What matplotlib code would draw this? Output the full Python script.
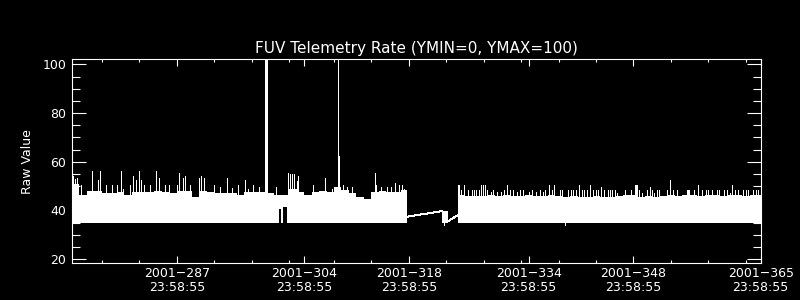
import numpy as np
import matplotlib
matplotlib.use('Agg')
import matplotlib.pyplot as plt
from matplotlib.ticker import MultipleLocator, FixedLocator

# day-of-year 2001, all ticks at 23:58:55
x_lo, x_hi = 273, 365
y_lo, y_hi = 18.4, 102.2
floor = 35.0

# segment 1: upper edge of the dense band, one value per day from day 273
seg1_start = 273
seg1_end = 317.73
seg1_top = [51, 46.5, 48, 48, 47, 47, 47.5, 46.5, 47.5, 47.5,
            47.5, 48, 47.5, 47, 48, 48, 45.5, 48, 47.5, 47,
            47, 47, 46.5, 47.5, 47.5, 47.5, 47, 46.5, 46.5, 49,
            47.5, 46.5, 47.5, 48, 47.5, 49.5, 48.5, 47, 45.5, 44.5,
            47.5, 48, 47.5, 47.5, 48.5]

# dropouts inside segment 1 (band does not reach the floor)
gap_start = [300.70, 301.22]
gap_end = [300.98, 301.77]
gap_top = [40.5, 41.5]

seg1_spike_day = [273.13, 273.40, 273.67, 274.16, 275.71, 276.43, 276.78, 277.54, 278.30, 278.97,
                  279.51, 279.80, 280.75, 281.19, 281.55, 281.99, 282.22, 282.62, 283.42, 284.27,
                  284.67, 285.43, 285.92, 286.99, 287.34, 287.79, 288.10, 288.77, 289.97, 290.24,
                  290.64, 291.98, 292.78, 293.67, 294.34, 295.14, 296.12, 296.52, 297.23, 297.99,
                  300.26, 301.85, 302.13, 302.44, 302.71, 303.03, 303.24, 305.17, 306.85, 307.70,
                  308.61, 309.17, 309.75, 310.38, 313.49, 313.63, 314.30, 315.05, 315.63, 316.16,
                  316.70, 317.06, 317.37]
seg1_spike_val = [54, 53, 53.2, 50.4, 56.2, 52.5, 56.2, 50.4, 50.4, 50.4,
                  56.2, 49, 50.4, 54.1, 52.5, 56.2, 52.5, 50.4, 50.4, 56.2,
                  53.2, 50.4, 50.4, 50.4, 55.2, 53.2, 54.1, 50.4, 53.2, 54.1,
                  53.2, 50.4, 49.5, 53.2, 49.2, 50.4, 52.5, 49, 50.4, 49.5,
                  49.5, 55.2, 55.1, 55.1, 55.1, 52, 54, 50.4, 53.4, 49,
                  62.5, 50.4, 49.5, 49.5, 55.5, 50.4, 49.5, 49.5, 49.5, 51.4,
                  50.4, 50.4, 49]

# off-scale spikes
tall_block = [298.75, 299.20]
tall_day = [308.48]
tall_val = 110

# sparse data between the two segments
link1_day = [317.73, 322.41]
link1_val = [37.4, 39.7]
block_day = [322.41, 323.25]
block_top = 39.7
link2_day = [323.25, 324.55]
link2_val = [35.6, 38.1]
dip_day = [322.75, 338.9]
dip_val = [34.0, 34.0]

# segment 3
seg3_start = 324.55
seg3_top = [46.3, 46.0, 45.8, 46.0, 46.3, 46.0, 46.3, 45.8, 46.0, 46.3,
            46.0, 45.8, 46.3, 46.0, 45.6, 45.8, 45.6, 45.6, 45.8, 45.6,
            45.6, 45.8, 46.3, 46.3, 45.6, 45.8, 45.6, 45.8, 46.3, 46.0,
            46.3, 46.3, 46.0, 46.3, 46.3, 46.0, 46.3, 46.3, 46.0, 46.3]
seg3_spike_day = [324.54, 324.76, 325.03, 325.35, 325.88, 326.45, 326.72, 327.03, 327.35, 327.62,
                  327.88, 328.23, 328.46, 328.99, 329.22, 329.84, 330.37, 330.77, 331.13, 331.49,
                  331.93, 332.47, 332.91, 333.27, 334.11, 334.47, 335.01, 335.50, 335.90, 336.25,
                  336.70, 337.14, 337.37, 338.21, 338.44, 339.32, 339.65, 339.99, 340.35, 340.79,
                  341.11, 341.46, 341.86, 342.26, 342.66, 342.99, 343.33, 343.73, 344.13, 344.54,
                  344.90, 345.20, 345.56, 345.83, 346.90, 347.70, 348.15, 348.30, 348.45, 348.68,
                  349.21, 349.80, 350.15, 350.47, 350.78, 351.14, 351.44, 352.42, 352.95, 353.32,
                  353.76, 355.15, 355.30, 355.45, 356.12, 356.66, 357.10, 357.63, 357.99, 358.43,
                  359.10, 359.46, 360.13, 360.53, 360.89, 361.20, 361.56, 361.91, 362.67, 362.98,
                  363.24, 364.01, 364.37, 364.67]
seg3_spike_val = [50.4, 50.4, 48.4, 50.4, 48.4, 48.4, 48.4, 48.4, 48.4, 50.4,
                  50.4, 50.4, 48.4, 47.7, 48.4, 47.7, 47.7, 48.4, 50.4, 48.4,
                  48.4, 47.7, 48.4, 48.4, 47.7, 48.4, 47.7, 48.4, 47.7, 48.4,
                  50.4, 48.4, 50.4, 48.4, 48.4, 48.4, 48.4, 48.4, 48.4, 50.4,
                  48.4, 48.4, 48.4, 50.4, 48.4, 48.4, 48.4, 49.7, 48.4, 48.4,
                  48.4, 48.4, 48.4, 47.0, 48.4, 48.4, 50.4, 50.4, 50.4, 48.4,
                  47.0, 48.4, 49.7, 48.4, 47.0, 48.4, 48.4, 48.4, 52.5, 48.4,
                  48.4, 48.4, 48.4, 48.4, 48.4, 50.4, 48.4, 48.4, 48.4, 48.4,
                  48.4, 48.4, 48.4, 48.4, 47.0, 50.4, 48.4, 48.4, 48.4, 48.4,
                  48.4, 48.4, 48.4, 48.4]

major_days = [287, 304, 318, 334, 348, 365]
minor_days = [277, 282, 292, 297, 302, 308, 313, 323, 328, 333, 338, 343, 353, 358, 363]
major_labels = ['2001\u2212%d\n23:58:55' % d for d in major_days]

fg = 'white'
plt.rcParams['font.family'] = ['DejaVu Sans']
fig = plt.figure(figsize=(8, 3), dpi=100, facecolor='black')
ax = fig.add_axes([72/800, 37/300, 688.7/800, 204/300], facecolor='black')

lw = 0.72  # one pixel
crisp = dict(color=fg, lw=lw, antialiased=False, capstyle='butt')

# segment 1 band
x1 = np.append(seg1_start + np.arange(len(seg1_top)), seg1_end)
t1 = np.append(seg1_top, seg1_top[-1])
ax.fill_between(x1, floor, t1, step='post', color=fg, lw=0, antialiased=False)
for a, b, t in zip(gap_start, gap_end, gap_top):
    ax.fill_between([a, b], floor - 1, t, color='black', lw=0, antialiased=False)
ax.vlines(seg1_spike_day, floor + 2, seg1_spike_val, **crisp)
ax.fill_between(tall_block, floor + 2, tall_val, color=fg, lw=0, antialiased=False)
ax.vlines(tall_day, floor + 2, tall_val, **crisp)

# sparse part
ax.plot(link1_day, link1_val, color=fg, lw=lw, antialiased=False)
ax.fill_between(block_day, floor, block_top, color=fg, lw=0, antialiased=False)
ax.plot(link2_day, link2_val, color=fg, lw=lw, antialiased=False)
ax.vlines(dip_day, dip_val, floor, **crisp)

# segment 3 band
x3 = np.append(seg3_start + np.arange(len(seg3_top)), x_hi)
t3 = np.append(seg3_top, seg3_top[-1])
ax.fill_between(x3, floor, t3, step='post', color=fg, lw=0, antialiased=False)
ax.vlines(seg3_spike_day, floor + 2, seg3_spike_val, **crisp)

ax.set_xlim(x_lo, x_hi)
ax.set_ylim(y_lo, y_hi)
ax.xaxis.set_major_locator(FixedLocator(major_days))
ax.xaxis.set_minor_locator(FixedLocator(minor_days))
ax.set_xticklabels(major_labels)
ax.yaxis.set_major_locator(FixedLocator([20, 40, 60, 80, 100]))
ax.yaxis.set_minor_locator(MultipleLocator(5))

for s in ax.spines.values():
    s.set_color(fg)
    s.set_linewidth(0.8)
ax.tick_params(axis='both', which='both', direction='in', colors=fg,
               top=True, right=True, width=0.8, labelsize=9)
ax.tick_params(axis='x', which='major', length=4.7, pad=3)
ax.tick_params(axis='x', which='minor', length=2.2)
ax.tick_params(axis='y', which='major', length=10, pad=4)
ax.tick_params(axis='y', which='minor', length=5.5)
for lab in ax.get_xticklabels():
    lab.set_linespacing(1.1)

ax.set_title('FUV Telemetry Rate (YMIN=0, YMAX=100)', color=fg, fontsize=11, pad=4)
fig.text(27.5/800, 1 - 161.5/300, 'Raw Value', color=fg, fontsize=9,
         rotation=90, ha='center', va='center')

fig.savefig('out.png', dpi=100, facecolor='black')
